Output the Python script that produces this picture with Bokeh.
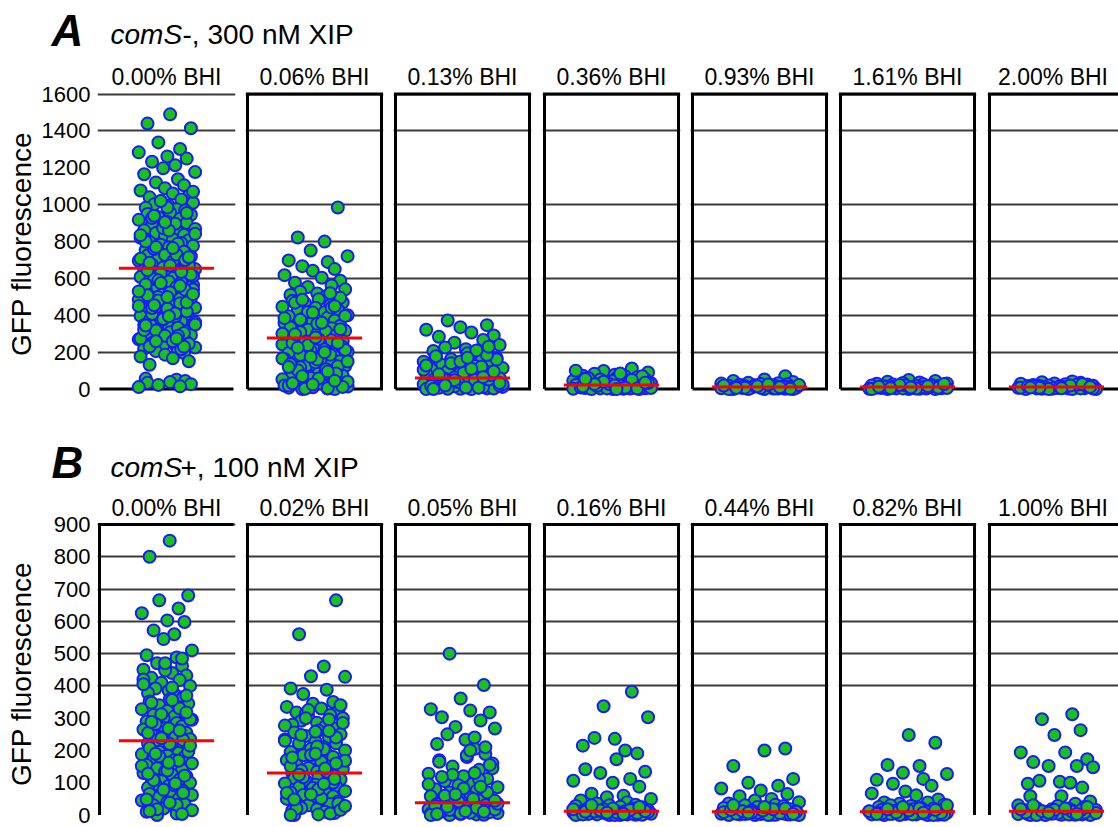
from bokeh.plotting import figure
from bokeh.layouts import column, row
from bokeh.models import Range1d, FixedTicker, Label, ColumnDataSource
from bokeh.embed import file_html
from bokeh.resources import INLINE

FONT = "Liberation Sans"

# ---------------- data ----------------
HEAD_A = ["0.00% BHI", "0.06% BHI", "0.13% BHI", "0.36% BHI", "0.93% BHI", "1.61% BHI", "2.00% BHI"]
HEAD_B = ["0.00% BHI", "0.02% BHI", "0.05% BHI", "0.16% BHI", "0.44% BHI", "0.82% BHI", "1.00% BHI"]
MED_A = [655, 277, 60, 22, 12, 12, 12]
MED_B = [230, 130, 38, 12, 10, 10, 12]
TICKS_A = [0, 200, 400, 600, 800, 1000, 1200, 1400, 1600]
TICKS_B = [0, 100, 200, 300, 400, 500, 600, 700, 800, 900]
GRID_A = [200, 400, 600, 800, 1000, 1400, 1600]
GRID_B = [400, 500, 600, 700, 800, 900]

A1 = [1490, 1440, 1415, 1338, 1302, 1284, 1262, 1250, 1233, 1214, 1198, 1177, 1165, 1138, 1121, 1106,
      1090, 1077, 1061, 1049, 1040, 1028, 1019, 1011, 1002, 994, 983, 976, 969, 957, 950, 946, 933, 924,
      918, 906, 901, 894, 882, 879, 868, 861, 852, 847, 836, 830, 821, 813, 807, 798, 792, 783, 777, 768,
      763, 754, 749, 740, 734, 724, 719, 710, 704, 696, 689, 680, 675, 666, 660, 651, 647, 637, 631, 623,
      617, 608, 602, 593, 588, 578, 573, 564, 559, 549, 544, 535, 529, 520, 514, 505, 500, 490, 485, 476,
      471, 461, 456, 446, 441, 432, 426, 417, 412, 402, 397, 388, 382, 373, 367, 358, 353, 344, 338, 329,
      323, 314, 309, 300, 294, 285, 279, 270, 264, 255, 250, 241, 235, 226, 220, 211, 206, 196, 187, 177,
      167, 151, 132, 250, 380, 540, 760, 770, 57, 51, 44, 38, 34, 27, 23, 15, 11,
      985, 955, 928, 897, 873, 842, 816, 789, 771, 745, 728, 707, 692, 671, 656, 642, 627, 612, 597, 583,
      568, 554, 538, 524, 509, 494, 480, 466, 451, 436, 421, 407, 392, 377, 362, 348, 333, 318, 304, 289,
      274, 260, 246, 231, 216, 1020, 1070, 940, 860, 800, 730, 700, 670, 645, 620, 590, 560, 530, 500, 470,
      440, 410, 380, 350, 320, 290, 260, 230, 905, 835, 765, 715, 685, 635, 575, 515, 455, 395, 345, 275]
A2 = [985, 822, 800, 752, 721, 698, 690, 667, 651, 642, 618, 604, 588, 577, 562, 554, 541, 528, 519, 511,
      503, 494, 487, 479, 470, 464, 455, 447, 441, 432, 425, 417, 410, 401, 395, 388, 380, 372, 366, 358,
      351, 344, 336, 330, 322, 316, 309, 301, 296, 288, 282, 275, 268, 261, 255, 248, 242, 235, 229, 222,
      216, 209, 203, 196, 190, 183, 177, 170, 164, 157, 151, 144, 138, 131, 125, 118, 112, 105, 99, 92,
      86, 79, 73, 66, 60, 53, 47, 40, 34, 27, 21, 14, 8, 3, 0, 0, 10, 20, 30,
      495, 468, 442, 418, 397, 376, 355, 334, 313, 292, 271, 250, 229, 208, 187, 166, 145, 124, 103, 82,
      61, 40, 19, 5, 485, 450, 415, 385, 360, 325, 298, 265, 238, 212, 185, 160, 135, 108, 85, 58, 32, 12,
      2, 520, 300, 280, 250, 225, 200, 175, 150, 120, 95, 70, 45, 25]
A3 = [372, 347, 336, 322, 307, 291, 284, 266, 252, 239, 226, 216, 207, 199, 191, 183, 176, 169, 162, 156,
      149, 143, 137, 131, 125, 119, 114, 108, 103, 98, 93, 88, 84, 79, 75, 71, 67, 63, 59, 56, 52, 49, 46,
      43, 40, 37, 34, 31, 28, 26, 23, 21, 18, 16, 14, 12, 10, 8, 6, 4, 2, 0, 0, 3, 7, 11, 15, 19, 24, 30,
      36, 44, 52, 195, 178, 160, 140, 122, 105, 90, 76, 62, 50, 38, 27, 17, 8, 2, 185, 150, 128, 110, 95,
      80, 65, 48, 33, 20, 9, 1, 210, 230, 170]
A4 = [112, 98, 90, 84, 78, 73, 69, 65, 61, 58, 55, 52, 49, 46, 43, 41, 38, 36, 34, 32, 30, 28, 26, 25, 23,
      22, 20, 19, 18, 16, 15, 14, 12, 11, 10, 9, 8, 7, 6, 5, 4, 3, 2, 1, 0, 0, 2, 4, 6, 9, 13, 17, 21, 27,
      100, 85, 70, 60, 50, 40, 33, 27, 20, 14, 8, 3, 0, 55, 35]
A5 = [70, 52, 44, 38, 35, 32, 30, 28, 26, 24, 23, 21, 20, 18, 17, 16, 15, 14, 13, 12, 11, 10, 9, 8, 7, 6,
      5, 4, 3, 2, 1, 0, 0, 1, 3, 5, 7, 9, 11, 14, 18, 22, 0, 4, 8, 12, 16, 20, 25, 2, 6, 10]
A6 = [50, 44, 40, 36, 33, 31, 29, 27, 25, 23, 21, 20, 18, 17, 16, 15, 14, 13, 12, 11, 10, 9, 8, 7, 6, 5, 4,
      3, 2, 1, 0, 0, 2, 4, 6, 8, 10, 12, 15, 19, 0, 3, 7, 11, 16, 22, 28, 5, 9, 13]
A7 = [42, 37, 34, 31, 29, 27, 25, 23, 21, 20, 18, 17, 16, 15, 14, 13, 12, 11, 10, 9, 8, 7, 6, 5, 4, 3, 2, 1,
      0, 0, 2, 4, 6, 8, 10, 13, 16, 24, 0, 3, 7, 11, 15, 19, 26, 5, 9, 12]

B1 = [850, 800, 680, 665, 640, 625, 603, 598, 572, 560, 545, 510, 495, 488, 470, 462, 455, 450, 440, 432,
      425, 418, 410, 400, 392, 385, 378, 372, 365, 358, 352, 345, 340, 334, 328, 322, 316, 310, 305, 300,
      295, 290, 285, 280, 275, 270, 265, 260, 255, 250, 245, 240, 235, 230, 226, 222, 218, 214, 210, 205,
      200, 196, 192, 188, 184, 180, 175, 170, 165, 160, 155, 150, 145, 140, 135, 130, 125, 120, 115, 110,
      105, 100, 95, 90, 85, 80, 75, 70, 65, 60, 55, 50, 45, 40, 35, 30, 25, 20, 15, 10, 5, 0,
      485, 448, 420, 395, 370, 348, 330, 312, 296, 282, 268, 254, 242, 232, 220, 208, 196, 182, 168, 152,
      138, 122, 108, 92, 78, 62, 48, 32, 18, 3, 470, 405, 356, 318, 288, 262, 238, 215, 190, 162, 128, 98,
      68, 38, 12]
B2 = [665, 560, 460, 430, 428, 392, 388, 375, 350, 345, 335, 330, 322, 318, 310, 305, 300, 292, 286, 280,
      274, 268, 262, 256, 250, 245, 240, 234, 228, 222, 216, 210, 205, 200, 195, 190, 185, 180, 175, 170,
      165, 160, 155, 150, 146, 142, 138, 134, 130, 126, 122, 118, 114, 110, 106, 102, 98, 94, 90, 86, 82,
      78, 74, 70, 66, 62, 58, 54, 50, 46, 42, 38, 34, 30, 26, 22, 18, 14, 10, 6, 2, 0,
      340, 315, 296, 277, 258, 240, 222, 204, 186, 168, 151, 134, 117, 100, 84, 68, 52, 36, 20, 5, 325, 285,
      248, 212, 178, 144, 112, 80, 48, 16, 300, 260, 230, 190, 160, 125, 96, 64, 28, 0]
B3 = [500, 403, 361, 328, 324, 318, 303, 293, 273, 268, 250, 233, 220, 205, 189, 180, 170, 160, 150, 140,
      128, 120, 112, 105, 98, 92, 86, 80, 75, 70, 66, 62, 58, 54, 51, 48, 45, 42, 40, 38, 36, 34, 32, 30,
      28, 26, 24, 22, 20, 18, 16, 14, 12, 10, 8, 6, 4, 2, 0, 1, 3, 5, 7, 9, 11, 13, 15, 17, 19, 21, 23,
      240, 210, 185, 165, 145, 125, 110, 95, 82, 70, 60, 50, 42, 35, 28, 22, 16, 10, 5, 0, 200, 155, 118,
      88, 64, 44, 26, 12, 3, 130]
B4 = [382, 337, 303, 239, 236, 215, 200, 191, 173, 142, 134, 130, 112, 106, 100, 88, 66, 60, 55, 50, 45,
      40, 36, 32, 30, 28, 26, 24, 22, 20, 18, 16, 15, 14, 13, 12, 12, 11, 10, 10, 9, 8, 8, 7, 6, 6, 5, 4,
      4, 3, 2, 2, 1, 0, 0, 0, 1, 3, 5, 7, 9, 11, 0, 2, 4, 6, 8, 10, 12, 14, 16, 18, 20, 25, 30, 3, 7]
B5 = [206, 200, 152, 112, 100, 91, 82, 76, 65, 58, 50, 45, 40, 36, 32, 30, 28, 25, 22, 20, 18, 16, 15, 14,
      12, 11, 10, 10, 9, 8, 8, 7, 6, 5, 5, 4, 3, 2, 2, 1, 0, 0, 0, 1, 3, 5, 7, 9, 0, 2, 4, 6, 8, 10, 12,
      14, 16, 18, 20, 25, 30, 3, 7]
B6 = [248, 224, 155, 152, 131, 127, 109, 112, 97, 91, 73, 67, 61, 48, 39, 39, 35, 32, 30, 28, 25, 22, 20,
      18, 16, 15, 14, 12, 11, 10, 10, 9, 8, 8, 7, 6, 5, 5, 4, 3, 2, 2, 1, 0, 0, 0, 1, 3, 5, 7, 9, 0, 2, 4,
      6, 8, 10, 12, 14, 16, 18, 20, 25, 30, 3, 7]
B7 = [312, 297, 263, 248, 194, 194, 173, 164, 152, 152, 148, 106, 103, 97, 100, 85, 58, 58, 42, 9, 35, 30,
      28, 25, 22, 20, 18, 16, 15, 14, 12, 11, 10, 10, 9, 8, 8, 7, 6, 5, 5, 4, 3, 2, 2, 1, 0, 0, 0, 1, 3, 5,
      7, 0, 2, 4, 6, 8, 10, 12, 14, 16, 18, 20, 25, 30, 3, 7]

VALS_A = [A1, A2, A3, A4, A5, A6, A7]
VALS_B = [B1, B2, B3, B4, B5, B6, B7]

# ---------------- layout / style ----------------
JIT = [0.12, -0.63, 0.81, -0.27, 0.45, -0.92, 0.03, 0.67, -0.48, 0.29, -0.11, 0.95, -0.74, 0.38,
       -0.35, 0.58, -0.05, -0.86, 0.21, 0.74, -0.56, 0.49, -0.19, 0.88, -0.41, 0.08, -0.69, 0.33, 0.62]
SPREAD_A = [0.45, 0.52, 0.63, 0.62, 0.62, 0.62, 0.62]
SPREAD_B = [0.40, 0.48, 0.55, 0.62, 0.62, 0.62, 0.62]
PXU = 67.0            # pixels per x unit (box from -1 to 1)
MARG = 2.0            # frame margin around box (px)
FIG_W = [245, 148, 149, 148, 148, 149, 131]
BORDER_L = [97, 0, 0, 0, 0, 0, 0]
BORDER_R = [10, 10, 11, 10, 10, 11, 0]
MED_HALF = 0.71
GREEN = "#19c219"
BLUE = "#1a1aff"
GRID_COL = "#3a3a3a"
TOTAL_W = sum(FIG_W)


def make_panel(i, head, vals, med, spread, yr, frame_h, top_b, bot_b, grid, top, rowname):
    fw = FIG_W[i] - BORDER_L[i] - BORDER_R[i]
    x0 = -1 - MARG / PXU
    p = figure(width=FIG_W[i], height=frame_h + top_b + bot_b, x_range=Range1d(x0, x0 + fw / PXU),
               y_range=yr, output_backend="svg", toolbar_location=None, title=head,
               x_axis_location=None, y_axis_location=("left" if i == 0 else None),
               min_border_left=BORDER_L[i], min_border_right=BORDER_R[i],
               min_border_top=top_b, min_border_bottom=bot_b, outline_line_color=None,
               background_fill_color="white", border_fill_color="white")
    p.title.align = "center"
    p.title.text_font = FONT
    p.title.text_font_style = "normal"
    p.title.text_font_size = "23px"
    p.title.text_color = "black"
    p.title.standoff = 4
    if i == len(FIG_W) - 1:
        p.title.offset = 3
    p.xgrid.visible = False
    p.ygrid.ticker = FixedTicker(ticks=grid)
    p.ygrid.grid_line_color = GRID_COL
    p.ygrid.grid_line_width = 2
    if i == 0:
        ax = p.yaxis[0]
        ax.ticker = FixedTicker(ticks=TICKS_A if rowname == "A" else TICKS_B)
        ax.axis_line_color = None
        ax.major_tick_line_color = None
        ax.minor_tick_line_color = None
        ax.major_tick_in = 0
        ax.major_tick_out = 0
        ax.major_label_standoff = 7
        ax.major_label_text_font = FONT
        ax.major_label_text_font_size = "22px"
        ax.major_label_text_color = "black"
        ax.axis_label = "GFP fluorescence"
        ax.axis_label_text_font = FONT
        ax.axis_label_text_font_size = "28px"
        ax.axis_label_text_font_style = "normal"
        ax.axis_label_text_color = "black"
        ax.axis_label_standoff = 2 if rowname == "A" else 14

    # frame lines
    if rowname == "A":
        if i == 0:
            p.line(x=[-1, 1], y=[0, 0], line_color="black", line_width=3)
        else:
            p.line(x=[-1, -1, 1, 1, -1], y=[0, top, top, 0, 0], line_color="black", line_width=3,
                   line_join="miter")
    else:
        if i == 0:
            p.line(x=[-1, -1, 1], y=[0, top, top], line_color="black", line_width=3, line_join="miter")
        else:
            p.line(x=[-1, -1, 1, 1], y=[0, top, top, 0], line_color="black", line_width=3,
                   line_join="miter")

    n = len(JIT)
    xs = [JIT[(k + 7 * i) % n] * spread for k in range(len(vals))]
    src = ColumnDataSource(dict(x=xs, y=vals))
    p.scatter("x", "y", source=src, marker="circle", size=12, fill_color=GREEN,
              line_color=BLUE, line_width=2)
    p.segment(x0=[-MED_HALF], y0=[med], x1=[MED_HALF], y1=[med], line_color="#ff0000", line_width=3)
    return p


def make_header(h, ref_top, letter, italic_part, rest, letter_mid, title_mid, rest_x):
    ref_bot = ref_top + h
    p = figure(width=TOTAL_W, height=h, x_range=Range1d(0, TOTAL_W), y_range=Range1d(ref_bot, ref_top),
               output_backend="svg", toolbar_location=None, title=None,
               x_axis_location=None, y_axis_location=None,
               min_border_left=0, min_border_right=0, min_border_top=0, min_border_bottom=0,
               outline_line_color=None)
    p.grid.visible = False
    p.add_layout(Label(x=51, y=letter_mid, text=letter, text_font=FONT, text_font_style="bold italic",
                       text_font_size="44px", text_color="black", text_baseline="middle"))
    p.add_layout(Label(x=110, y=title_mid, text=italic_part, text_font=FONT, text_font_style="italic",
                       text_font_size="28px", text_color="black", text_baseline="middle"))
    p.add_layout(Label(x=rest_x, y=title_mid, text=rest, text_font=FONT,
                       text_font_size="28px", text_color="black", text_baseline="middle"))
    return p


# page rows: header A 0-56, row A 56-402 (frame 91-396), header B 402-490, row B 490-827 (frame 521-825)
yrA_args = (-40, 1614)
yrB_args = (-32.4, 906.2)

head_a = make_header(56, 0, "A", "comS", "-, 300 nM XIP", 30, 34, 182)
panels_a = [make_panel(i, HEAD_A[i], VALS_A[i], MED_A[i], SPREAD_A[i], Range1d(*yrA_args), 305, 35, 6,
                       GRID_A, 1600, "A") for i in range(7)]
head_b = make_header(88, 402, "B", "comS", "+, 100 nM XIP", 462, 467, 180)
panels_b = [make_panel(i, HEAD_B[i], VALS_B[i], MED_B[i], SPREAD_B[i], Range1d(*yrB_args), 304, 31, 2,
                       GRID_B, 900, "B") for i in range(7)]

layout = column(head_a, row(*panels_a, spacing=0), head_b, row(*panels_b, spacing=0), spacing=0)

open("out.html", "w").write(file_html(layout, INLINE))
